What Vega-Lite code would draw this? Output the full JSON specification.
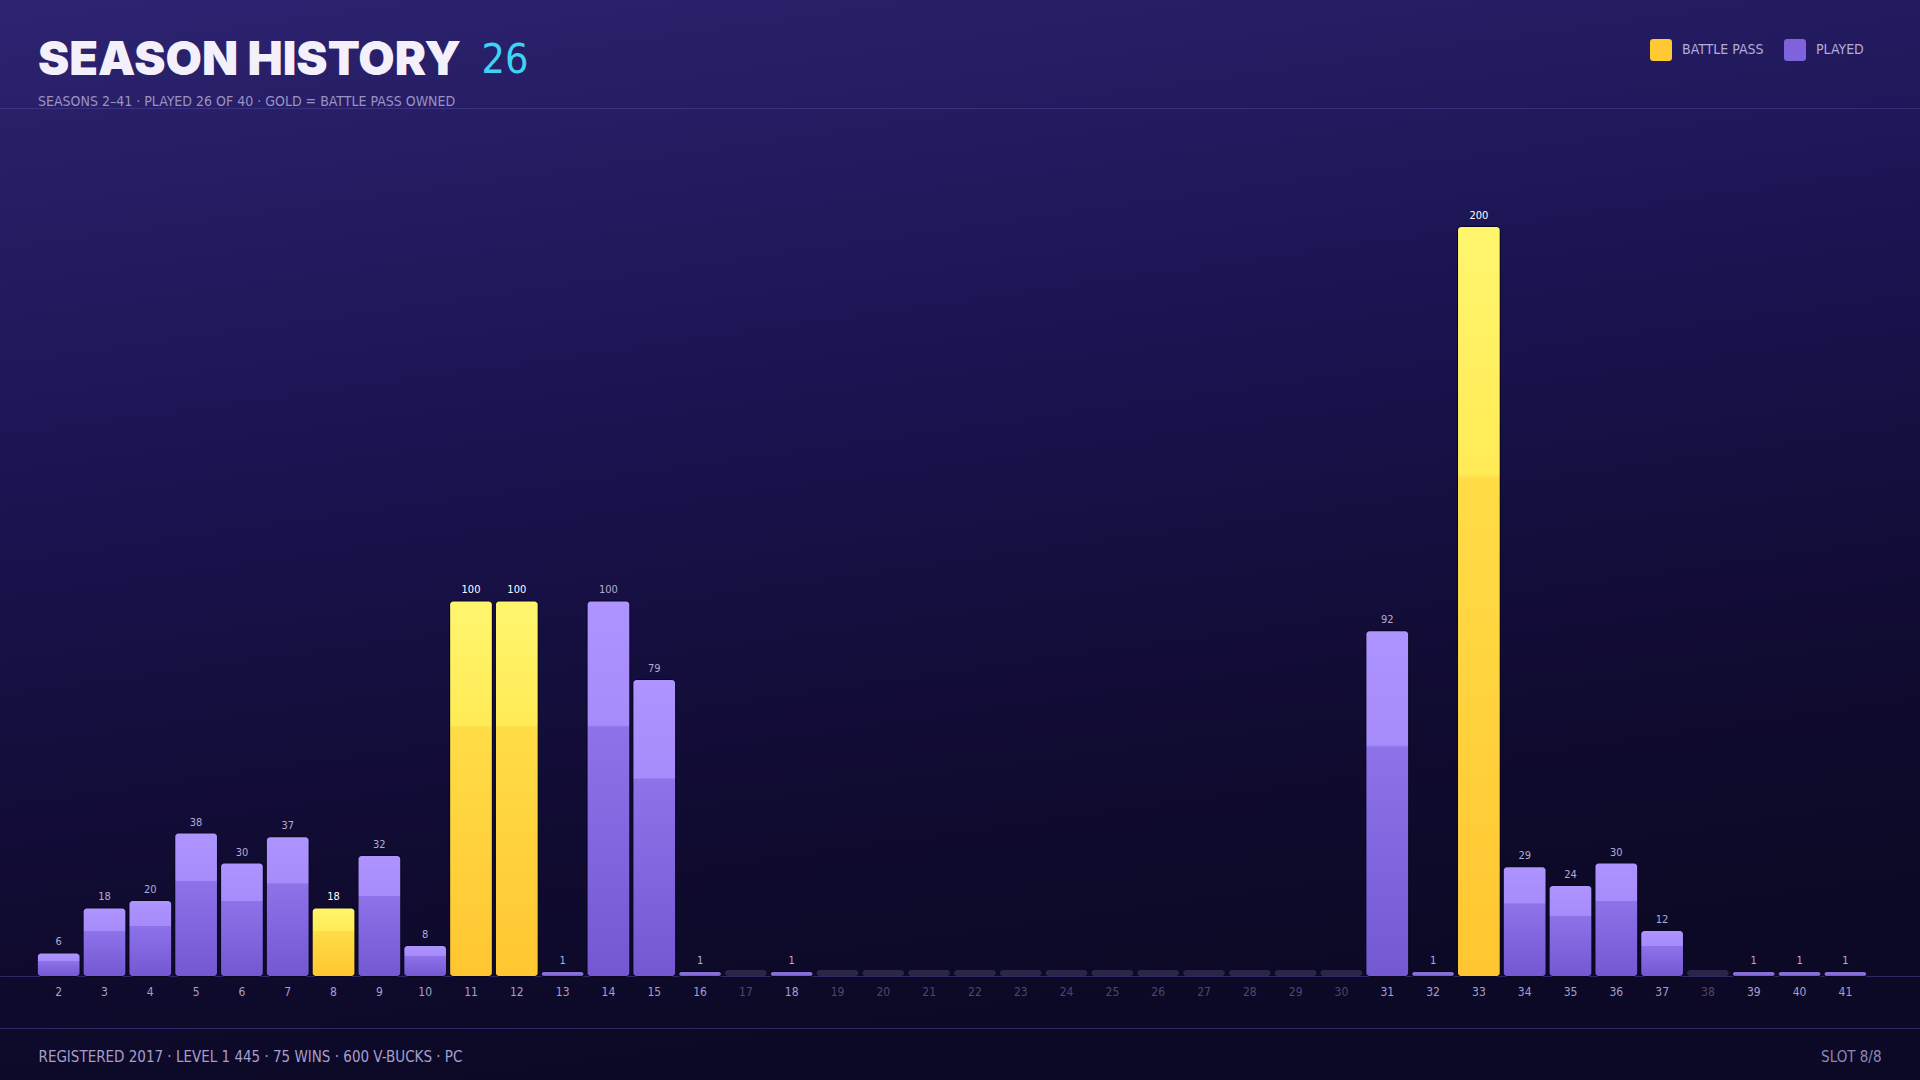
{
  "$schema": "https://vega.github.io/schema/vega-lite/v6.json",
  "width": 1920,
  "height": 1080,
  "autosize": {"type": "none"},
  "padding": 0,
  "background": "#150f3a",
  "title": {
    "text": "SEASON HISTORY",
    "subtitle": "SEASONS 2–41  ·  PLAYED 26 OF 40  ·  GOLD = BATTLE PASS OWNED",
    "anchor": "start",
    "frame": "group",
    "orient": "top",
    "offset": -110,
    "dx": 38,
    "font": "Inter",
    "fontSize": 47,
    "fontWeight": 900,
    "color": "#f3f0fc",
    "subtitleFont": "'Liberation Sans Narrow', 'DejaVu Sans Condensed', sans-serif",
    "subtitleFontSize": 14,
    "subtitleColor": "#9a92c2",
    "subtitlePadding": 10
  },
  "data": {
    "values": [
      {"season": 2, "level": 6, "pass": "PLAYED"},
      {"season": 3, "level": 18, "pass": "PLAYED"},
      {"season": 4, "level": 20, "pass": "PLAYED"},
      {"season": 5, "level": 38, "pass": "PLAYED"},
      {"season": 6, "level": 30, "pass": "PLAYED"},
      {"season": 7, "level": 37, "pass": "PLAYED"},
      {"season": 8, "level": 18, "pass": "BATTLE PASS"},
      {"season": 9, "level": 32, "pass": "PLAYED"},
      {"season": 10, "level": 8, "pass": "PLAYED"},
      {"season": 11, "level": 100, "pass": "BATTLE PASS"},
      {"season": 12, "level": 100, "pass": "BATTLE PASS"},
      {"season": 13, "level": 1, "pass": "PLAYED"},
      {"season": 14, "level": 100, "pass": "PLAYED"},
      {"season": 15, "level": 79, "pass": "PLAYED"},
      {"season": 16, "level": 1, "pass": "PLAYED"},
      {"season": 17, "level": 0, "pass": "NONE"},
      {"season": 18, "level": 1, "pass": "PLAYED"},
      {"season": 19, "level": 0, "pass": "NONE"},
      {"season": 20, "level": 0, "pass": "NONE"},
      {"season": 21, "level": 0, "pass": "NONE"},
      {"season": 22, "level": 0, "pass": "NONE"},
      {"season": 23, "level": 0, "pass": "NONE"},
      {"season": 24, "level": 0, "pass": "NONE"},
      {"season": 25, "level": 0, "pass": "NONE"},
      {"season": 26, "level": 0, "pass": "NONE"},
      {"season": 27, "level": 0, "pass": "NONE"},
      {"season": 28, "level": 0, "pass": "NONE"},
      {"season": 29, "level": 0, "pass": "NONE"},
      {"season": 30, "level": 0, "pass": "NONE"},
      {"season": 31, "level": 92, "pass": "PLAYED"},
      {"season": 32, "level": 1, "pass": "PLAYED"},
      {"season": 33, "level": 200, "pass": "BATTLE PASS"},
      {"season": 34, "level": 29, "pass": "PLAYED"},
      {"season": 35, "level": 24, "pass": "PLAYED"},
      {"season": 36, "level": 30, "pass": "PLAYED"},
      {"season": 37, "level": 12, "pass": "PLAYED"},
      {"season": 38, "level": 0, "pass": "NONE"},
      {"season": 39, "level": 1, "pass": "PLAYED"},
      {"season": 40, "level": 1, "pass": "PLAYED"},
      {"season": 41, "level": 1, "pass": "PLAYED"}
    ]
  },
  "resolve": {"axis": {"x": "independent"}},
  "layer": [
    {
      "transform": [{"filter": "datum.level > 0"}],
      "mark": {"type": "bar", "cornerRadius": 4, "stroke": "#0b0720", "strokeWidth": 2},
      "encoding": {
        "x": {
          "field": "season",
          "type": "ordinal",
          "scale": {"paddingInner": 0.09, "paddingOuter": 1.005, "align": 0.413},
          "axis": {
            "orient": "bottom",
            "offset": -103,
            "domain": false,
            "ticks": false,
            "labelAngle": 0,
            "labelPadding": 9,
            "labelFont": "'Liberation Sans Narrow', 'DejaVu Sans Condensed', sans-serif",
            "labelFontSize": 12,
            "labelColor": {
              "condition": {"test": "indexof([17,19,20,21,22,23,24,25,26,27,28,29,30,38], datum.value) >= 0", "value": "#4d466e"},
              "value": "#a79fcb"
            },
            "title": "REGISTERED 2017  ·  LEVEL 1 445  ·  75 WINS  ·  600 V-BUCKS  ·  PC",
            "titleX": 38,
            "titleY": 84,
            "titleAlign": "left",
            "titleBaseline": "alphabetic",
            "titleFont": "'Liberation Sans Narrow', 'DejaVu Sans Condensed', sans-serif",
            "titleFontSize": 15,
            "titleFontWeight": "normal",
            "titleColor": "#a69ecb"
          }
        },
        "y": {
          "field": "level",
          "type": "quantitative",
          "stack": null,
          "scale": {"domain": [-27.8, 260.6], "nice": false, "zero": false},
          "axis": {
            "orient": "left",
            "offset": 0,
            "zindex": 0,
            "values": [-13.9, 0, 231.8],
            "grid": true,
            "gridColor": "#4b4194",
            "gridOpacity": 0.55,
            "gridWidth": 1,
            "domain": false,
            "ticks": false,
            "labels": false,
            "title": "SLOT 8/8",
            "titleAngle": 0,
            "titleX": 1881,
            "titleY": 1061,
            "titleAlign": "right",
            "titleBaseline": "alphabetic",
            "titleFont": "'Liberation Sans Narrow', 'DejaVu Sans Condensed', sans-serif",
            "titleFontSize": 15,
            "titleFontWeight": "normal",
            "titleColor": "#8f88b6"
          }
        },
        "color": {
          "field": "pass",
          "type": "nominal",
          "scale": {"domain": ["BATTLE PASS", "PLAYED"], "range": ["#ffc933", "#7e63dc"]},
          "legend": {
            "title": null,
            "orient": "none",
            "legendX": 1650,
            "legendY": 39,
            "direction": "horizontal",
            "symbolType": "M-0.7,-1H0.7Q1,-1 1,-0.7V0.7Q1,1 0.7,1H-0.7Q-1,1 -1,0.7V-0.7Q-1,-1 -0.7,-1Z",
            "symbolSize": 484,
            "symbolStrokeWidth": 0,
            "symbolOpacity": 1,
            "labelFont": "'Liberation Sans Narrow', 'DejaVu Sans Condensed', sans-serif",
            "labelFontSize": 14,
            "labelColor": "#b4acdb",
            "labelOffset": 10,
            "columnPadding": 20
          }
        }
      }
    },
    {
      "transform": [{"filter": "datum.level == 0"}],
      "mark": {"type": "bar", "cornerRadius": 3, "color": "#2b2648"},
      "encoding": {
        "x": {
          "field": "season",
          "type": "ordinal",
          "axis": {
            "orient": "top",
            "domain": false,
            "ticks": false,
            "labels": false,
            "grid": false,
            "title": "26",
            "titleX": 481,
            "titleY": 72,
            "titleAlign": "left",
            "titleBaseline": "alphabetic",
            "titleFont": "'Liberation Sans Narrow', 'DejaVu Sans Condensed', sans-serif",
            "titleFontSize": 41,
            "titleFontWeight": "normal",
            "titleColor": "#3fd3f2"
          }
        },
        "y": {"datum": 1.6, "type": "quantitative"}
      }
    },
    {
      "transform": [{"filter": "datum.pass == 'BATTLE PASS'"}],
      "mark": {
        "type": "bar",
        "cornerRadius": 3,
        "fill": {
          "gradient": "linear", "x1": 0, "y1": 0, "x2": 0, "y2": 1,
          "stops": [
            {"offset": 0, "color": "#fff66e"},
            {"offset": 0.33, "color": "#ffeb56"},
            {"offset": 0.336, "color": "#ffdd47"},
            {"offset": 1, "color": "#ffc631"}
          ]
        }
      },
      "encoding": {
        "x": {"field": "season", "type": "ordinal", "axis": null},
        "y": {"field": "level", "type": "quantitative", "stack": null}
      }
    },
    {
      "transform": [{"filter": "datum.pass == 'PLAYED'"}],
      "mark": {
        "type": "bar",
        "cornerRadius": 3,
        "fill": {
          "gradient": "linear", "x1": 0, "y1": 0, "x2": 0, "y2": 1,
          "stops": [
            {"offset": 0, "color": "#ae94ff"},
            {"offset": 0.33, "color": "#a68bfa"},
            {"offset": 0.336, "color": "#8e72ea"},
            {"offset": 1, "color": "#7458d2"}
          ]
        }
      },
      "encoding": {
        "x": {"field": "season", "type": "ordinal", "axis": null},
        "y": {"field": "level", "type": "quantitative", "stack": null}
      }
    },
    {
      "transform": [{"filter": "datum.level > 0"}],
      "mark": {
        "type": "text",
        "baseline": "bottom",
        "dy": -6,
        "font": "'Liberation Sans Narrow', 'DejaVu Sans Condensed', sans-serif",
        "fontSize": 11
      },
      "encoding": {
        "x": {"field": "season", "type": "ordinal", "axis": null},
        "y": {"field": "level", "type": "quantitative", "stack": null},
        "text": {"field": "level", "type": "quantitative"},
        "color": {
          "condition": {"test": "datum.pass == 'BATTLE PASS'", "value": "#ffffff"},
          "value": "#b3abd6"
        },
        "fontWeight": {
          "condition": {"test": "datum.pass == 'BATTLE PASS'", "value": "bold"},
          "value": "normal"
        }
      }
    }
  ],
  "config": {
    "view": {
      "stroke": null,
      "fill": {
        "gradient": "linear", "x1": 0, "y1": 0, "x2": 0.25, "y2": 1,
        "stops": [
          {"offset": 0, "color": "#2d2371"},
          {"offset": 0.45, "color": "#1a1350"},
          {"offset": 0.8, "color": "#100b30"},
          {"offset": 1, "color": "#0c0926"}
        ]
      }
    }
  }
}
